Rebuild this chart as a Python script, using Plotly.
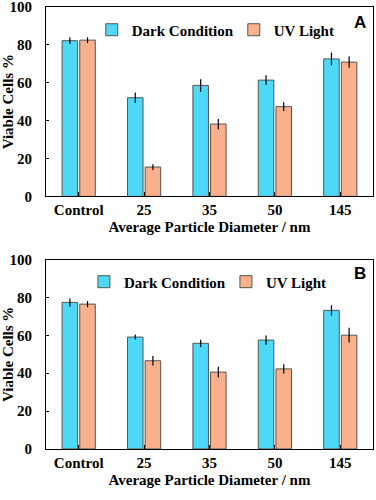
import plotly.graph_objects as go
from plotly.subplots import make_subplots

categories = ["Control", "25", "35", "50", "145"]

dark_a = [82.2, 52.1, 58.6, 61.4, 72.6]
dark_a_err = [1.8, 2.8, 3.3, 2.5, 3.4]
uv_a = [82.5, 15.5, 38.2, 47.4, 70.9]
uv_a_err = [1.5, 1.5, 2.7, 2.3, 3.0]

dark_b = [77.4, 59.1, 55.8, 57.5, 73.2]
dark_b_err = [2.1, 1.3, 1.9, 2.4, 2.7]
uv_b = [76.5, 46.6, 40.6, 42.3, 60.1]
uv_b_err = [1.6, 2.5, 2.8, 2.4, 3.9]

DARK = "#4dd8f7"
UV = "#f9b08b"
serif = "Liberation Serif, DejaVu Serif, serif"
bold = dict(family=serif, size=15, color="black", weight="bold")

fig = make_subplots(rows=2, cols=1, vertical_spacing=0.143)

panels = [
    (1, dark_a, dark_a_err, uv_a, uv_a_err, "legend"),
    (2, dark_b, dark_b_err, uv_b, uv_b_err, "legend2"),
]
for row, d, de, u, ue, leg in panels:
    for name, vals, errs, color in [("Dark Condition", d, de, DARK), ("UV Light", u, ue, UV)]:
        fig.add_trace(
            go.Bar(
                x=categories, y=vals, name=name, legend=leg,
                marker=dict(color=color, line=dict(color="#555555", width=1)),
                error_y=dict(type="data", array=errs, color="black", thickness=1.2, width=0),
            ),
            row=row, col=1,
        )

fig.update_layout(
    width=376, height=500,
    margin=dict(l=46, r=3, t=7, b=51, autoexpand=False),
    paper_bgcolor="white", plot_bgcolor="white",
    barmode="group", bargap=0.46, bargroupgap=0.12,
    font=bold,
    legend=dict(orientation="h", x=0.14, y=0.948, xanchor="left", yanchor="middle",
                font=bold, entrywidth=97, bgcolor="rgba(0,0,0,0)"),
    legend2=dict(orientation="h", x=0.116, y=0.378, xanchor="left", yanchor="middle",
                 font=bold, entrywidth=97, bgcolor="rgba(0,0,0,0)"),
    showlegend=True,
)

for label, yp in [("A", 0.966), ("B", 0.398)]:
    fig.add_annotation(text=label, x=0.96, y=yp, xref="paper", yref="paper",
                       xanchor="center", yanchor="middle", showarrow=False,
                       font=dict(family="Liberation Sans", size=17, color="black", weight="bold"))

fig.update_xaxes(
    showline=True, linecolor="black", linewidth=1.2, mirror=True,
    ticks="inside", ticklen=4, tickcolor="black",
    tickfont=bold, automargin=False,
    title=dict(text="Average Particle Diameter / nm", font=bold, standoff=4),
)
fig.update_yaxes(
    range=[0, 100], dtick=20, showgrid=False, zeroline=False,
    showline=True, linecolor="black", linewidth=1.2, mirror=True,
    ticks="inside", ticklen=3, tickcolor="black", ticklabelstandoff=10,
    ticklabeloverflow="allow", tickfont=bold, automargin=False,
    title=dict(text="Viable Cells %", font=bold, standoff=1),
)

fig.write_html("out.html", config={"displayModeBar": False},
               post_script="document.body.style.margin='0';")
